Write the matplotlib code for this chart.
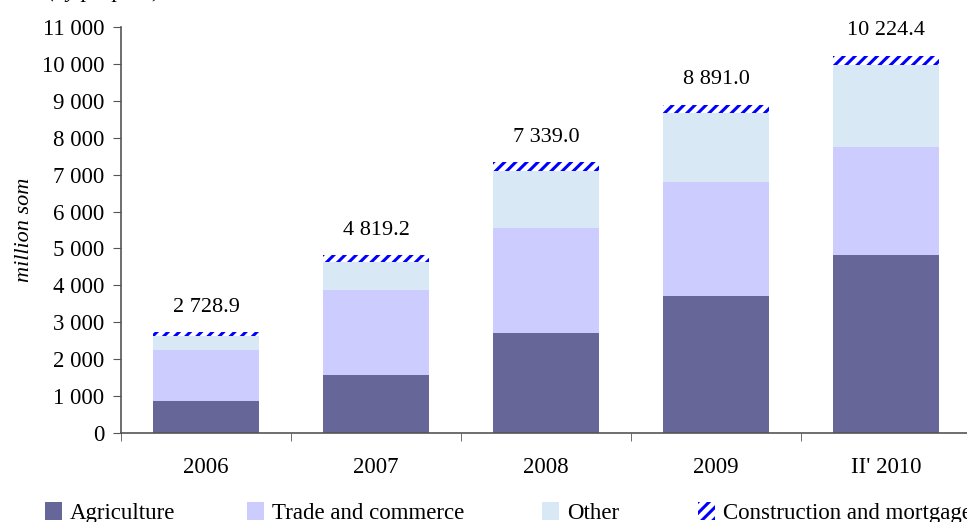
import numpy as np
import matplotlib.pyplot as plt
from matplotlib.patches import Patch

plt.rcParams['font.family'] = ['Liberation Serif', 'DejaVu Serif']
plt.rcParams['hatch.linewidth'] = 2.2

years = ['2006', '2007', '2008', '2009', "II' 2010"]
totals = [2728.9, 4819.2, 7339.0, 8891.0, 10224.4]
agriculture = [870, 1570, 2710, 3720, 4820]
trade = [1380, 2310, 2850, 3080, 2940]
other = [380, 740, 1540, 1870, 2220]
# construction and mortgage is what is left up to the total
construction = [t - a - b - c for t, a, b, c in zip(totals, agriculture, trade, other)]

fig = plt.figure(figsize=(9.67, 5.22), dpi=100)
ax = fig.add_axes([121/967, 1 - 433/522, 850/967, 406/522])

x = np.arange(len(years))
w = 0.62
b1 = np.array(agriculture, dtype=float)
b2 = b1 + trade
b3 = b2 + other
ax.bar(x, agriculture, w, color='#666699', linewidth=0)
ax.bar(x, trade, w, bottom=b1, color='#ccccff', linewidth=0)
ax.bar(x, other, w, bottom=b2, color='#d8e8f5', linewidth=0)
ax.bar(x, construction, w, bottom=b3, facecolor='white', edgecolor='#0000ff',
       hatch='///', linewidth=0)

def fmt(v):
    return f'{v:,.0f}'.replace(',', ' ')

for xi, t in zip(x, totals):
    ax.text(xi, t + 420, f'{t:,.1f}'.replace(',', ' '), ha='center', va='bottom',
            fontsize=16)

ax.set_xlim(-0.5, len(years) - 0.5)
ax.set_ylim(0, 11000)
ax.set_yticks(np.arange(0, 11001, 1000))
ax.set_yticklabels([fmt(v) for v in np.arange(0, 11001, 1000)], fontsize=16.5)
ax.set_xticks(x)
ax.set_xticklabels(years, fontsize=16.5)
ax.set_xticks(np.arange(-0.5, len(years), 1), minor=True)
ax.tick_params(axis='x', which='major', length=0, pad=17)
ax.tick_params(axis='x', which='minor', length=6, direction='out', color='#555555')
ax.tick_params(axis='y', length=6, direction='out', color='#555555', pad=6)
for s in ['top', 'right']:
    ax.spines[s].set_visible(False)
for s in ['left', 'bottom']:
    ax.spines[s].set_color('#555555')
    ax.spines[s].set_linewidth(1.2)
ax.set_ylabel('million som', fontsize=16, style='italic', labelpad=6)

fig.text(0.05, 1.006, '(by purpose)', fontsize=16, style='italic', va='baseline')

handles = [Patch(facecolor='#666699', linewidth=0),
           Patch(facecolor='#ccccff', linewidth=0),
           Patch(facecolor='#d8e8f5', linewidth=0),
           Patch(facecolor='white', edgecolor='#0000ff', hatch='///', linewidth=0)]
labels = ['Agriculture', 'Trade and commerce', 'Other', 'Construction and mortgage']
xs = [45, 247, 542, 698]
for hx, h, lab in zip(xs, handles, labels):
    fig.legend([h], [lab], loc='center left', bbox_to_anchor=(hx / 967, 1 - 513/522),
               frameon=False, fontsize=16.5, handlelength=0.75, handleheight=0.8,
               handletextpad=0.35, borderpad=0, borderaxespad=0)

fig.savefig('out.png', dpi=100)
